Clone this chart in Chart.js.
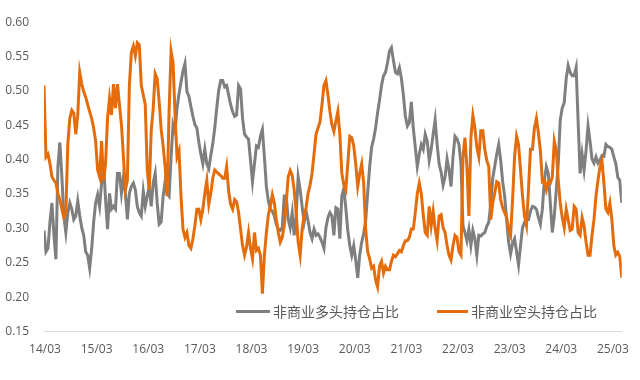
<!DOCTYPE html>
<html>
<head>
<meta charset="utf-8">
<script src="https://cdn.jsdelivr.net/npm/chart.js@4/dist/chart.umd.min.js"></script>
<style>
  html, body { margin: 0; padding: 0; background: #ffffff; }
  #wrap { position: relative; width: 640px; height: 380px; }
  canvas { display: block; }
  .lg-line { position: absolute; height: 3px; }
  .lg-text { position: absolute; font-family: "Noto Sans CJK SC", "Noto Sans", sans-serif; font-size: 14px; line-height: 20px; color: #595959; white-space: nowrap; }
</style>
</head>
<body>
<div id="wrap">
  <canvas id="c" width="640" height="380"></canvas>
  <div class="lg-line" style="left:236px; top:310px; width:34px; background:#7F7F7F;"></div>
  <div class="lg-text" id="lg1" style="left:273px; top:301px;"></div>
  <div class="lg-line" style="left:437px; top:310px; width:31px; background:#E46C0A;"></div>
  <div class="lg-text" id="lg2" style="left:471px; top:301px;"></div>
</div>
<script>
// Series names
const seriesNames = ['非商业多头持仓占比', '非商业空头持仓占比'];

// Tick labels (yy/mm), one per year
const tickLabels = ['14/03','15/03','16/03','17/03','18/03','19/03','20/03','21/03','22/03','23/03','24/03','25/03'];

// Y axis ticks
const yTicks = [0.15, 0.20, 0.25, 0.30, 0.35, 0.40, 0.45, 0.50, 0.55, 0.60];

// Non-commercial long share (sampled every 2 weeks from 2014-03)
const longShare = [
  .297,.266,.271,.309,.337,.290,.255,.390,.425,.375,.318,.294,.323,.337,.328,.313,.318,.340,.318,.301,.290,.266,.261,.242,.270,.309,.337,.349,.332,.366,.394,.342,.299,.351,.328,.332,.328,.380,.380,.351,.375,.351,.313,.351,.361,.366,.356,.332,
  .323,.318,.354,.332,.347,.361,.332,.366,.380,.337,.306,.309,.347,.368,.351,.347,.404,.451,.441,.475,.496,.513,.529,.540,.499,.492,.477,.463,.451,.446,.425,.408,.394,.415,.394,.387,.406,.423,.446,.475,.501,.515,.515,.506,.508,.494,.480,.470,.463,
  .465,.508,.503,.460,.437,.433,.430,.399,.368,.394,.420,.418,.434,.444,.404,.361,.340,.328,.325,.318,.306,.299,.297,.301,.347,.347,.313,.301,.323,.290,.318,.375,.356,.332,.309,.325,.311,.294,.285,.299,.290,.292,.287,.280,.271,.301,.316,.323,.318,
  .290,.330,.328,.285,.347,.358,.330,.297,.275,.261,.275,.254,.228,.261,.280,.292,.311,.351,.389,.418,.430,.446,.468,.487,.508,.522,.527,.541,.558,.563,.544,.527,.525,.534,.518,.494,.463,.449,.454,.484,.446,.418,.390,.408,.422,.415,.437,.427,.399,
  .415,.437,.458,.422,.394,.382,.363,.375,.401,.385,.361,.404,.434,.430,.422,.394,.304,.294,.282,.299,.275,.297,.285,.261,.290,.289,.292,.294,.303,.309,.335,.373,.390,.408,.422,.399,.368,.347,.313,.280,.263,.278,.285,.266,.247,.275,.301,.309,.313,
  .313,.325,.332,.331,.328,.316,.306,.328,.370,.390,.380,.337,.294,.318,.356,.394,.458,.475,.483,.518,.537,.527,.522,.522,.534,.456,.380,.408,.385,.413,.449,.427,.401,.395,.404,.395,.399,.406,.405,.422,.419,.418,.415,.404,.394,.374,.370,.337
];

// Non-commercial short share (sampled every 2 weeks from 2014-03)
const shortShare = [
  .508,.404,.408,.394,.375,.370,.366,.351,.342,.328,.316,.323,.423,.460,.472,.468,.437,.465,.527,.510,.499,.491,.480,.470,.460,.446,.427,.385,.375,.427,.370,.394,.460,.489,.465,.510,.475,.510,.480,.451,.404,.356,.370,.508,.556,.565,.551,.570,
  .567,.508,.494,.480,.385,.356,.442,.475,.525,.518,.484,.444,.420,.390,.347,.470,.558,.541,.465,.404,.413,.347,.299,.287,.294,.275,.271,.285,.304,.328,.328,.313,.328,.351,.370,.335,.351,.373,.385,.382,.379,.377,.373,.373,.390,.354,.335,.328,.342,
  .339,.323,.299,.275,.261,.273,.294,.271,.256,.294,.268,.271,.261,.205,.261,.294,.320,.332,.349,.337,.313,.294,.280,.287,.304,.337,.375,.384,.377,.356,.323,.280,.261,.299,.318,.330,.351,.363,.380,.408,.437,.446,.455,.480,.508,.515,.494,.470,.451,
  .441,.456,.470,.437,.380,.363,.356,.394,.434,.432,.420,.394,.361,.380,.394,.366,.299,.266,.256,.242,.245,.225,.215,.245,.252,.235,.245,.240,.240,.252,.261,.259,.263,.268,.266,.275,.282,.282,.287,.299,.299,.323,.351,.366,.351,.320,.294,.290,.332,
  .304,.325,.299,.282,.318,.320,.301,.294,.275,.261,.254,.275,.290,.287,.266,.261,.404,.432,.389,.318,.432,.464,.446,.418,.404,.442,.442,.415,.399,.390,.313,.337,.351,.368,.366,.342,.330,.323,.316,.299,.290,.342,.404,.434,.422,.385,.347,.318,.304,
  .356,.415,.415,.446,.460,.439,.413,.368,.370,.356,.368,.366,.375,.427,.413,.370,.337,.316,.301,.328,.313,.297,.299,.332,.328,.294,.290,.316,.304,.280,.261,.261,.290,.313,.347,.370,.389,.399,.366,.328,.323,.337,.313,.275,.261,.265,.259,.228
];

const WEEKS_PER_SAMPLE = 2;
const WEEKS_PER_YEAR = 52;
const toPoints = arr => arr.map((v, i) => ({ x: i * WEEKS_PER_SAMPLE, y: v }));

document.getElementById('lg1').textContent = seriesNames[0];
document.getElementById('lg2').textContent = seriesNames[1];

const tickFont = { family: '"Open Sans", "Liberation Sans", sans-serif', size: 12 };

new Chart(document.getElementById('c'), {
  type: 'line',
  data: {
    datasets: [
      { label: seriesNames[0], data: toPoints(longShare), borderColor: '#7F7F7F', backgroundColor: '#7F7F7F', borderWidth: 3, pointRadius: 0, tension: 0, order: 1 },
      { label: seriesNames[1], data: toPoints(shortShare), borderColor: '#E46C0A', backgroundColor: '#E46C0A', borderWidth: 3, pointRadius: 0, tension: 0, order: 0 }
    ]
  },
  options: {
    responsive: false,
    animation: false,
    devicePixelRatio: 1,
    layout: { padding: { top: 15.5, right: 14, left: 0, bottom: 0 } },
    plugins: { legend: { display: false }, tooltip: { enabled: false } },
    scales: {
      x: {
        type: 'linear',
        min: 0,
        max: (longShare.length - 1) * WEEKS_PER_SAMPLE,
        grid: { display: false, drawTicks: false },
        border: { display: true, color: '#D9D9D9', width: 1 },
        afterBuildTicks: scale => { scale.ticks = tickLabels.map((_, k) => ({ value: k * WEEKS_PER_YEAR + 1 })); },
        afterFit: scale => { scale.height = 48.5; },
        ticks: {
          autoSkip: false, maxRotation: 0, padding: 11,
          color: '#595959', font: tickFont,
          callback: (v, i) => tickLabels[i]
        }
      },
      y: {
        min: yTicks[0],
        max: yTicks[yTicks.length - 1],
        grid: { display: false, drawTicks: false },
        border: { display: false },
        afterBuildTicks: scale => { scale.ticks = yTicks.map(v => ({ value: v })); },
        afterFit: scale => { scale.width = 44; },
        ticks: {
          padding: 15,
          color: '#595959', font: tickFont,
          callback: v => Number(v).toFixed(2)
        }
      }
    }
  }
});
</script>
</body>
</html>
